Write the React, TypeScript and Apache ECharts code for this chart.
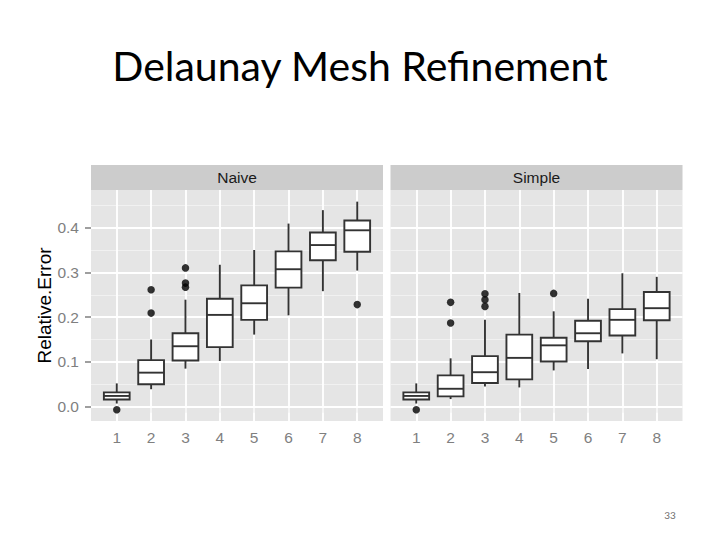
import React, { useEffect, useRef } from "react";
import * as echarts from "echarts";

// Data
const categories = [1, 2, 3, 4, 5, 6, 7, 8];
const yTicks = [0, 0.1, 0.2, 0.3, 0.4];
const yMinorLines = [0.05, 0.15, 0.25, 0.35, 0.45];

const naiveMin = [0.007, 0.039, 0.085, 0.102, 0.161, 0.204, 0.258, 0.304];
const naiveQ1 = [0.016, 0.05, 0.103, 0.133, 0.194, 0.266, 0.327, 0.346];
const naiveMedian = [0.024, 0.076, 0.135, 0.205, 0.231, 0.307, 0.361, 0.394];
const naiveQ3 = [0.032, 0.104, 0.164, 0.241, 0.271, 0.347, 0.389, 0.416];
const naiveMax = [0.052, 0.15, 0.239, 0.317, 0.35, 0.409, 0.439, 0.458];
const naiveOutliers = [
  [1, -0.007],
  [2, 0.261],
  [2, 0.209],
  [3, 0.31],
  [3, 0.276],
  [3, 0.267],
  [8, 0.228],
];

const simpleMin = [0.007, 0.017, 0.045, 0.043, 0.081, 0.084, 0.119, 0.106];
const simpleQ1 = [0.016, 0.023, 0.053, 0.061, 0.101, 0.146, 0.159, 0.193];
const simpleMedian = [0.024, 0.04, 0.077, 0.109, 0.137, 0.164, 0.194, 0.22];
const simpleQ3 = [0.032, 0.07, 0.113, 0.161, 0.154, 0.192, 0.218, 0.256];
const simpleMax = [0.052, 0.108, 0.194, 0.254, 0.213, 0.241, 0.298, 0.29];
const simpleOutliers = [
  [1, -0.007],
  [2, 0.233],
  [2, 0.187],
  [3, 0.252],
  [3, 0.239],
  [3, 0.224],
  [5, 0.253],
];

const panelTitles = ["Naive", "Simple"];
const titleText = "Delaunay Mesh Refinement";
const yAxisTitle = "Relative.Error";
const pageNumber = "33";

const Y_MIN = -0.032;
const Y_MAX = 0.484;
const X_MIN = 0.25;
const X_MAX = 8.75;

const PANEL_TOP = 190;
const PANEL_H = 231;
const PANEL_W = 292;
const PANEL_LEFTS = [91, 390.5];
const STRIP_H = 25;

const BOX_COLOR = "#333333";
const LABEL_GREY = "#7F7F7F";

function buildBoxData(mn: number[], q1: number[], md: number[], q3: number[], mx: number[]) {
  return categories.map((c, i) => [c, mn[i], q1[i], md[i], q3[i], mx[i]]);
}

export default function App() {
  const ref = useRef<HTMLDivElement>(null);

  useEffect(() => {
    if (!ref.current) return;
    const chart = echarts.init(ref.current, undefined, { renderer: "svg" });

    const boxSets = [
      buildBoxData(naiveMin, naiveQ1, naiveMedian, naiveQ3, naiveMax),
      buildBoxData(simpleMin, simpleQ1, simpleMedian, simpleQ3, simpleMax),
    ];
    const outlierSets = [naiveOutliers, simpleOutliers];

    const grids = PANEL_LEFTS.map((left) => ({
      left,
      top: PANEL_TOP,
      width: PANEL_W,
      height: PANEL_H,
      show: true,
      backgroundColor: "#E5E5E5",
      borderWidth: 0,
      containLabel: false,
    }));

    const xAxes = PANEL_LEFTS.map((_, i) => ({
      type: "value",
      gridIndex: i,
      min: X_MIN,
      max: X_MAX,
      axisLine: { show: false },
      splitLine: { show: false },
      axisTick: {
        show: true,
        customValues: categories,
        length: 6,
        lineStyle: { color: LABEL_GREY, width: 1.5 },
      },
      axisLabel: {
        show: true,
        customValues: categories,
        color: LABEL_GREY,
        fontSize: 15.5,
        fontFamily: "Liberation Sans, Arial, sans-serif",
        margin: 8,
        formatter: (v: number) => String(v),
      },
    }));

    const yAxes = PANEL_LEFTS.map((_, i) => ({
      type: "value",
      gridIndex: i,
      min: Y_MIN,
      max: Y_MAX,
      axisLine: { show: false },
      splitLine: { show: false },
      name: i === 0 ? yAxisTitle : "",
      nameLocation: "middle",
      nameRotate: 90,
      nameGap: 37,
      nameTextStyle: {
        color: "#000000",
        fontSize: 19,
        fontFamily: "Liberation Sans, Arial, sans-serif",
      },
      axisTick: {
        show: i === 0,
        customValues: yTicks,
        length: 6,
        lineStyle: { color: LABEL_GREY, width: 1.5 },
      },
      axisLabel: {
        show: i === 0,
        customValues: yTicks,
        color: LABEL_GREY,
        fontSize: 15.5,
        fontFamily: "Liberation Sans, Arial, sans-serif",
        margin: 12,
        formatter: (v: number) => v.toFixed(1),
      },
    }));

    const series: any[] = [];
    PANEL_LEFTS.forEach((_, i) => {
      // gridlines
      series.push({
        type: "line",
        xAxisIndex: i,
        yAxisIndex: i,
        data: [],
        silent: true,
        markLine: {
          silent: true,
          z: 1,
          symbol: ["none", "none"],
          label: { show: false },
          emphasis: { disabled: true },
          animation: false,
          data: [
            ...yMinorLines.map((v) => ({
              yAxis: v,
              lineStyle: { color: "#F2F2F2", width: 0.9, type: "solid" },
            })),
            ...yTicks.map((v) => ({
              yAxis: v,
              lineStyle: { color: "#FFFFFF", width: 1.8, type: "solid" },
            })),
            ...categories.map((c) => ({
              xAxis: c,
              lineStyle: { color: "#FFFFFF", width: 1.8, type: "solid" },
            })),
          ],
        },
      });
      // boxes
      series.push({
        type: "custom",
        xAxisIndex: i,
        yAxisIndex: i,
        z: 3,
        silent: true,
        data: boxSets[i],
        encode: { x: 0, y: [1, 2, 3, 4, 5] },
        renderItem: (params: any, api: any) => {
          const x = api.value(0);
          const lo = api.coord([x, api.value(1)]);
          const q1 = api.coord([x, api.value(2)]);
          const md = api.coord([x, api.value(3)]);
          const q3 = api.coord([x, api.value(4)]);
          const hi = api.coord([x, api.value(5)]);
          const half = api.size([0.75, 0])[0] / 2;
          const lineStyle = { stroke: BOX_COLOR, lineWidth: 1.9, fill: null };
          return {
            type: "group",
            children: [
              {
                type: "line",
                shape: { x1: lo[0], y1: lo[1], x2: q1[0], y2: q1[1] },
                style: lineStyle,
              },
              {
                type: "line",
                shape: { x1: q3[0], y1: q3[1], x2: hi[0], y2: hi[1] },
                style: lineStyle,
              },
              {
                type: "rect",
                shape: {
                  x: q3[0] - half,
                  y: q3[1],
                  width: half * 2,
                  height: q1[1] - q3[1],
                },
                style: { fill: "#FFFFFF", stroke: BOX_COLOR, lineWidth: 1.9 },
              },
              {
                type: "line",
                shape: { x1: md[0] - half, y1: md[1], x2: md[0] + half, y2: md[1] },
                style: lineStyle,
              },
            ],
          };
        },
      });
      // outliers
      series.push({
        type: "scatter",
        xAxisIndex: i,
        yAxisIndex: i,
        z: 4,
        silent: true,
        symbol: "circle",
        symbolSize: 7.5,
        itemStyle: { color: "#000000" },
        data: outlierSets[i],
      });
    });

    const graphics: any[] = [
      {
        type: "text",
        x: 360,
        y: 65,
        style: {
          text: titleText,
          fontSize: 41,
          fontFamily: "Lato, sans-serif",
          fill: "#000000",
          align: "center",
          verticalAlign: "middle",
        },
      },
      {
        type: "text",
        x: 670,
        y: 515,
        style: {
          text: pageNumber,
          fontSize: 10,
          fontFamily: "Lato, sans-serif",
          fill: "#6F6F6F",
          align: "center",
          verticalAlign: "middle",
        },
      },
    ];
    PANEL_LEFTS.forEach((left, i) => {
      graphics.push({
        type: "rect",
        shape: { x: left, y: PANEL_TOP - STRIP_H, width: PANEL_W, height: STRIP_H },
        style: { fill: "#CCCCCC" },
        silent: true,
      });
      graphics.push({
        type: "text",
        x: left + PANEL_W / 2,
        y: PANEL_TOP - STRIP_H / 2,
        style: {
          text: panelTitles[i],
          fontSize: 15.5,
          fontFamily: "Liberation Sans, Arial, sans-serif",
          fill: "#1A1A1A",
          align: "center",
          verticalAlign: "middle",
        },
        silent: true,
      });
    });

    chart.setOption({
      animation: false,
      backgroundColor: "#FFFFFF",
      grid: grids,
      xAxis: xAxes,
      yAxis: yAxes,
      series,
      graphic: graphics,
    });

    return () => {
      chart.dispose();
    };
  }, []);

  return (
    <div
      ref={ref}
      style={{ position: "fixed", left: 0, top: 0, width: 720, height: 540 }}
    />
  );
}
